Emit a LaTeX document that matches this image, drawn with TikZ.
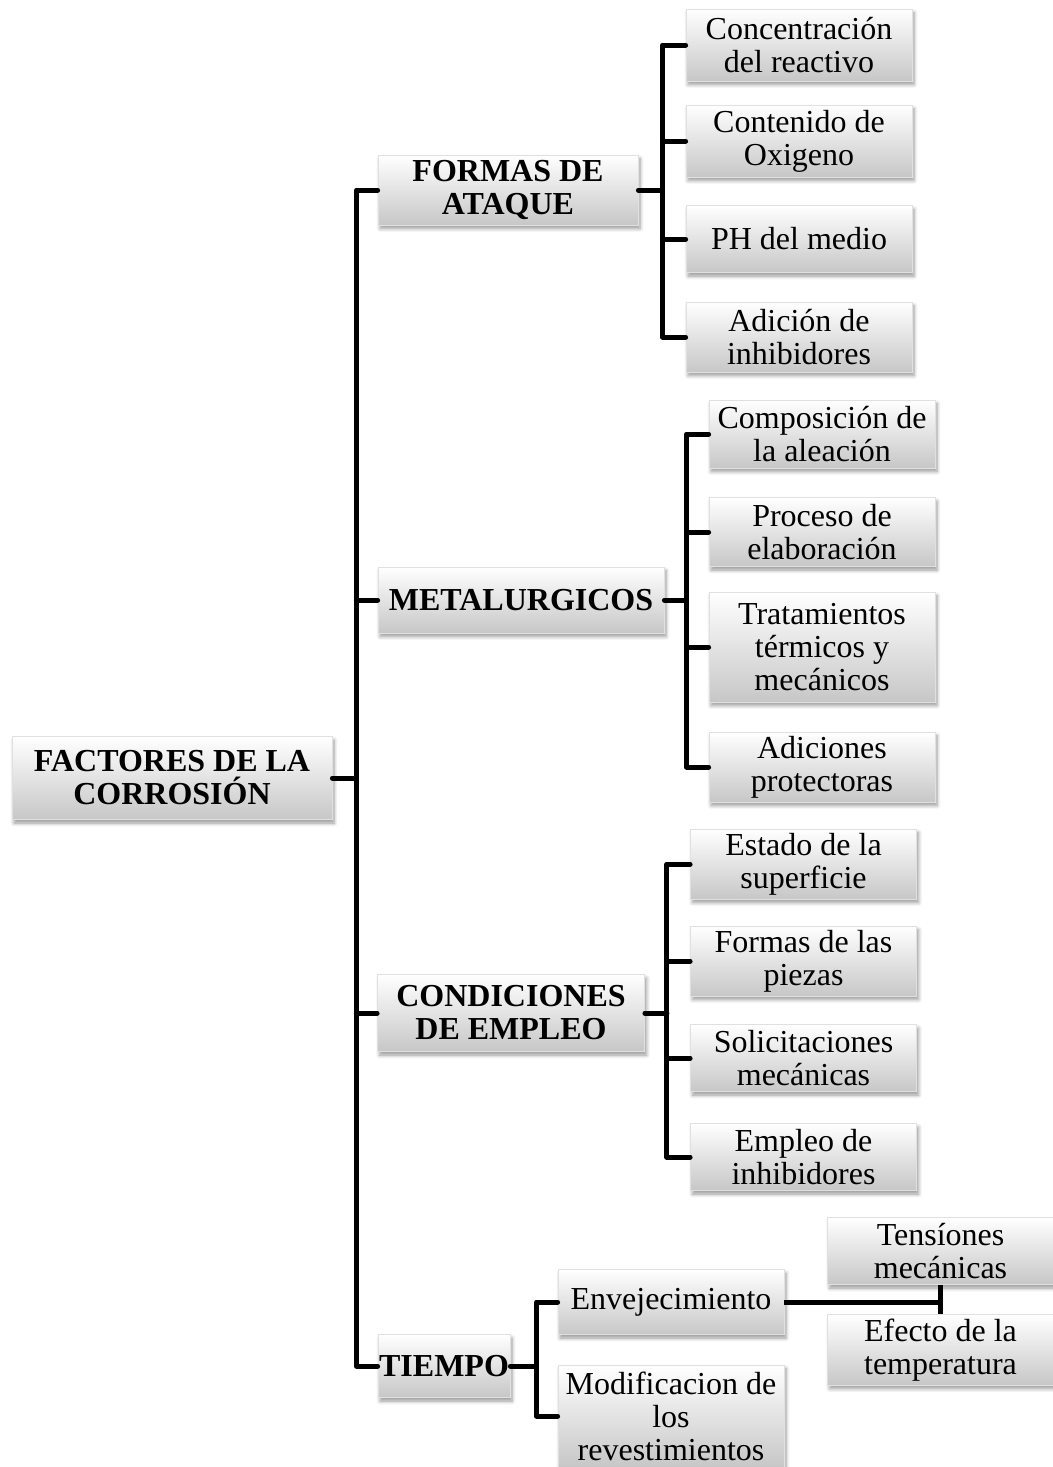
\documentclass[tikz,border=0pt]{standalone}
\usepackage{fontspec}
\setmainfont{Liberation Serif}
\usetikzlibrary{positioning}
\usetikzlibrary{shadows.blur}

\tikzset{
  caja/.style={rectangle, top color=white, bottom color=black!22, draw=black!12,
    align=center, inner sep=2pt, font=\fontsize{16}{16.5}\selectfont,
    blur shadow={shadow xshift=1pt, shadow yshift=-1.8pt, shadow blur steps=6}},
  titulo/.style={caja, font=\fontsize{16}{16.5}\selectfont\bfseries},
  hoja/.style={caja, minimum width=113pt, minimum height=34pt},
  rama/.style={line width=2.5pt, line join=round, line cap=round},
}

\begin{document}
\begin{tikzpicture}[x=0.5pt, y=-0.5pt]
        \useasboundingbox (0,0) rectangle (1053,1467);
        % raiz y ramas principales
        \node[titulo, minimum width=160pt, minimum height=41.5pt] (root) at (172,778) {FACTORES DE LA\\CORROSIÓN};
        \node[titulo, minimum width=130pt, minimum height=35pt] (formas) at (508,190) {FORMAS DE\\ATAQUE};
        \node[titulo, minimum width=143pt, minimum height=33pt] (metal) at (521,600) {METALURGICOS};
        \node[titulo, minimum width=133.5pt, minimum height=38.5pt] (cond) at (511,1013) {CONDICIONES\\DE EMPLEO};
        \node[titulo, inner sep=0.5pt, minimum width=66pt, minimum height=31.5pt] (tiempo) at (444,1366) {TIEMPO};

        % formas de ataque
        \node[hoja, minimum height=36pt] (conc) at (799,45) {Concentración\\del reactivo};
        \node[hoja, minimum height=36pt] (oxig) at (799,141) {Contenido de\\Oxigeno};
        \node[hoja, minimum height=33.5pt] (ph) at (799,239) {PH del medio};
        \node[hoja, minimum height=35pt] (adic) at (799,337) {Adición de\\inhibidores};

        % metalurgicos
        \node[hoja] (compo) at (822,434) {Composición de\\la aleación};
        \node[hoja, minimum height=34.5pt] (proc) at (822,532) {Proceso de\\elaboración};
        \node[hoja, minimum height=55pt] (trat) at (822,647) {Tratamientos\\térmicos y\\mecánicos};
        \node[hoja] (adprot) at (822,767) {Adiciones\\protectoras};

        % condiciones de empleo
        \node[hoja, minimum height=33.5pt] (estado) at (803.5,864) {Estado de la\\superficie};
        \node[hoja, minimum height=33.5pt] (piezas) at (803.5,961) {Formas de las\\piezas};
        \node[hoja, minimum height=33.5pt] (solic) at (803.5,1058) {Solicitaciones\\mecánicas};
        \node[hoja, minimum height=33.5pt] (emp) at (803.5,1157) {Empleo de\\inhibidores};

        % tiempo
        \node[hoja, minimum height=32.5pt] (env) at (671,1302) {Envejecimiento};
        \node[hoja, minimum height=51pt] (modif) at (671,1416) {Modificacion de\\los\\revestimientos};
        \node[hoja, minimum height=33.5pt] (tens) at (940.5,1251) {Tensíones\\mecánicas};
        \node[hoja, minimum height=34.5pt] (efecto) at (940.5,1350) {Efecto de la\\temperatura};

        % conectores
        \coordinate[right=12pt of root.east] (s0);
        \draw[rama] (formas.west) -| (s0) |- (tiempo.west);
        \draw[rama] (root.east) -- (s0);
        \foreach \n in {metal,cond}
            \draw[rama] (s0 |- \n.west) -- (\n.west);

        \coordinate[right=12pt of formas.east] (s1);
        \draw[rama] (conc.west) -| (s1) |- (adic.west);
        \draw[rama] (formas.east) -- (s1);
        \foreach \n in {oxig,ph}
            \draw[rama] (s1 |- \n.west) -- (\n.west);

        \coordinate[right=11pt of metal.east] (s2);
        \draw[rama] (compo.west) -| (s2) |- (adprot.west);
        \draw[rama] (metal.east) -- (s2);
        \foreach \n in {proc,trat}
            \draw[rama] (s2 |- \n.west) -- (\n.west);

        \coordinate[right=11pt of cond.east] (s3);
        \draw[rama] (estado.west) -| (s3) |- (emp.west);
        \draw[rama] (cond.east) -- (s3);
        \foreach \n in {piezas,solic}
            \draw[rama] (s3 |- \n.west) -- (\n.west);

        \coordinate[right=13pt of tiempo.east] (s4);
        \draw[rama] (env.west) -| (s4) |- (modif.west);
        \draw[rama] (tiempo.east) -- (s4);

        \draw[rama, line cap=butt] (env.east) -- (env.east -| tens.south);
        \draw[rama, line cap=butt] (tens.south) -- (efecto.north);
    \end{tikzpicture}
\end{document}
